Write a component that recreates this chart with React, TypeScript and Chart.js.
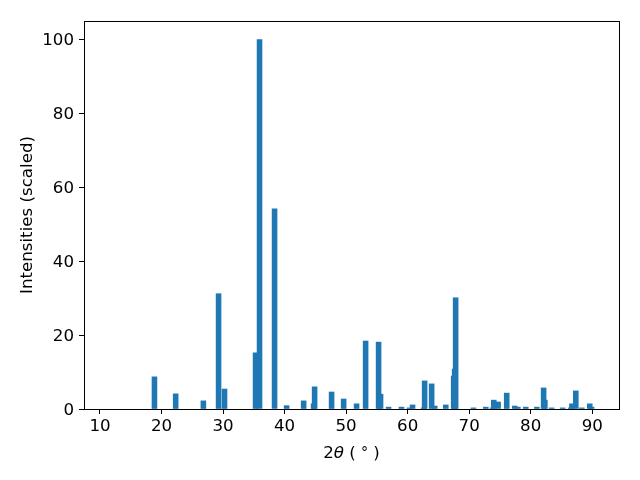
import React, { useEffect, useRef } from "react";
import { Chart, registerables } from "chart.js";

Chart.register(...registerables);

const twoTheta: number[] = [
  18.85, 22.3, 26.8, 29.27, 30.24, 35.28, 35.93, 38.37, 40.33, 43.1,
  44.72, 44.88, 47.64, 49.6, 51.7, 53.17, 55.28, 55.6, 56.9, 59.0,
  60.3, 60.8, 62.6, 62.76, 63.9, 64.4, 66.2, 67.48, 67.64, 67.8,
  70.7, 72.7, 73.8, 74.7, 74.0, 76.1, 77.4, 77.9, 79.2, 81.0,
  82.1, 82.3, 83.4, 85.2, 86.5, 86.7, 87.33, 88.3, 89.6, 89.9,
];
const intensities: number[] = [
  8.7, 4.1, 2.2, 31.2, 5.4, 15.2, 100, 54.2, 0.9, 2.2,
  1.4, 6.0, 4.6, 2.7, 1.4, 18.4, 18.1, 4.0, 0.5, 0.5,
  0.3, 1.1, 0.3, 7.6, 6.8, 0.8, 1.1, 8.9, 10.8, 30.1,
  0.3, 0.5, 0.3, 1.9, 2.4, 4.3, 0.8, 0.5, 0.5, 0.5,
  5.7, 2.4, 0.3, 0.3, 0.3, 1.4, 4.9, 0.3, 1.4, 0.5,
];
const xTicks: number[] = [10, 20, 30, 40, 50, 60, 70, 80, 90];
const yTicks: number[] = [0, 20, 40, 60, 80, 100];
const yLabel = "Intensities (scaled)";
const barWidthUnits = 0.8;

const FONT = "'DejaVu Sans', sans-serif";
const FS = 16.67;

const framePlugin = {
  id: "frameAndLabels",
  beforeDatasetsDraw(chart: any) {
    const xs = chart.scales.x;
    const px = Math.abs(xs.getPixelForValue(barWidthUnits) - xs.getPixelForValue(0));
    chart.data.datasets.forEach((ds: any, i: number) => {
      const meta = chart.getDatasetMeta(i);
      meta.data.forEach((el: any) => {
        el.width = px;
      });
    });
  },
  afterDraw(chart: any) {
    const { ctx, chartArea } = chart;
    ctx.save();
    ctx.strokeStyle = "#000";
    ctx.lineWidth = 1;
    ctx.strokeRect(
      Math.round(chartArea.left) + 0.5,
      Math.round(chartArea.top) + 0.5,
      Math.round(chartArea.right - chartArea.left),
      Math.round(chartArea.bottom - chartArea.top)
    );
    ctx.fillStyle = "#000";
    ctx.textBaseline = "alphabetic";
    // x label: 2θ ( ° )
    const parts: { t: string; f: string; dy: number }[] = [
      { t: "2", f: `${FS}px ${FONT}`, dy: 0 },
      { t: "θ", f: `italic ${FS}px ${FONT}`, dy: 0 },
      { t: " ( ", f: `${FS}px ${FONT}`, dy: 0 },
      { t: "°", f: `${FS * 0.85}px ${FONT}`, dy: -1 },
      { t: " )", f: `${FS}px ${FONT}`, dy: 0 },
    ];
    let total = 0;
    parts.forEach((p) => {
      ctx.font = p.f;
      total += ctx.measureText(p.t).width;
    });
    let x = (chartArea.left + chartArea.right) / 2 - total / 2;
    const baseY = 458;
    ctx.textAlign = "left";
    parts.forEach((p) => {
      ctx.font = p.f;
      ctx.fillText(p.t, x, baseY + p.dy);
      x += ctx.measureText(p.t).width;
    });
    // y label
    ctx.font = `${FS}px ${FONT}`;
    ctx.translate(32, (chartArea.top + chartArea.bottom) / 2);
    ctx.rotate(-Math.PI / 2);
    ctx.textAlign = "center";
    ctx.fillText(yLabel, 0, 0);
    ctx.restore();
  },
};

export default function App() {
  const ref = useRef<HTMLCanvasElement | null>(null);
  useEffect(() => {
    document.body.style.margin = "0";
    if (!ref.current) return;
    const chart = new Chart(ref.current, {
      type: "bar",
      data: {
        datasets: [
          {
            data: twoTheta.map((v, i) => ({ x: v, y: intensities[i] })),
            backgroundColor: "#1f77b4",
            borderWidth: 0,
            barThickness: 4.9,
          } as any,
        ],
      },
      options: {
        responsive: false,
        animation: false,
        events: [],
        layout: { padding: { top: 21, right: 21, left: 0, bottom: 0 } },
        plugins: { legend: { display: false }, tooltip: { enabled: false } },
        scales: {
          x: {
            type: "linear",
            min: 7.4,
            max: 94.35,
            offset: false,
            grid: {
              offset: false,
              display: true,
              drawOnChartArea: false,
              drawTicks: true,
              tickLength: 5,
              color: "#000",
            },
            border: { display: true, color: "#000", width: 1 },
            afterBuildTicks: (s: any) => {
              s.ticks = xTicks.map((v) => ({ value: v }));
            },
            afterFit: (s: any) => {
              s.height = 71;
            },
            ticks: {
              color: "#000",
              font: { family: FONT, size: FS },
              padding: 3,
              maxRotation: 0,
              autoSkip: false,
            },
          },
          y: {
            type: "linear",
            min: 0,
            max: 105,
            grid: {
              display: true,
              drawOnChartArea: false,
              drawTicks: true,
              tickLength: 5,
              color: "#000",
            },
            border: { display: true, color: "#000", width: 1 },
            afterBuildTicks: (s: any) => {
              s.ticks = yTicks.map((v) => ({ value: v }));
            },
            afterFit: (s: any) => {
              s.width = 84;
            },
            ticks: {
              color: "#000",
              font: { family: FONT, size: FS },
              padding: 5,
              labelOffset: 1.5,
              autoSkip: false,
            },
          },
        },
      },
      plugins: [framePlugin],
    });
    return () => chart.destroy();
  }, []);
  return (
    <div style={{ position: "absolute", left: 0, top: 0, width: 640, height: 480, background: "#fff" }}>
      <canvas ref={ref} width={640} height={480} style={{ display: "block" }} />
    </div>
  );
}
